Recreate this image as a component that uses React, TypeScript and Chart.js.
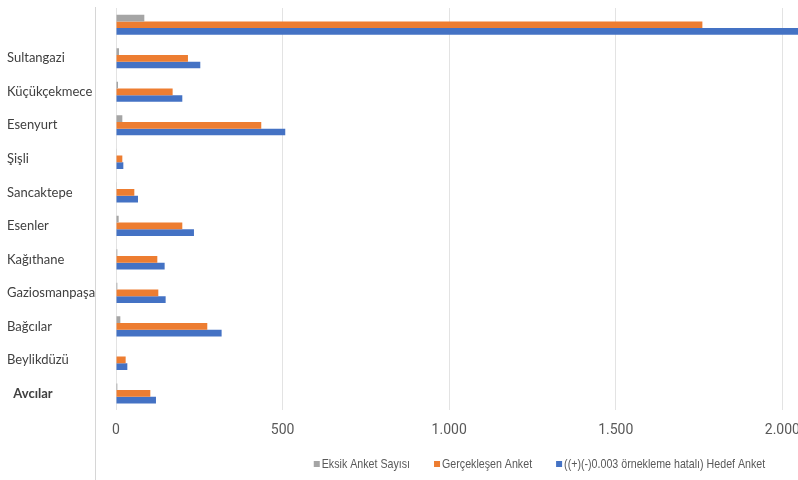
import React, { useEffect, useRef } from "react";
import { Chart, registerables } from "chart.js";

Chart.register(...registerables);

const categories = [
  "",
  "Sultangazi",
  "Küçükçekmece",
  "Esenyurt",
  "Şişli",
  "Sancaktepe",
  "Esenler",
  "Kağıthane",
  "Gaziosmanpaşa",
  "Bağcılar",
  "Beylikdüzü",
  "Avcılar",
];
const eksikAnket = [85, 9, 6, 19, 1, 1, 8, 4, 4, 13, 2, 4];
const gerceklesenAnket = [1760, 216, 170, 436, 19, 55, 199, 124, 127, 274, 29, 103];
const hedefAnket = [2070, 253, 199, 508, 22, 66, 234, 146, 149, 317, 34, 120];
const seriesLabels = [
  "Eksik Anket Sayısı",
  "Gerçekleşen Anket",
  "((+)(-)0.003 örnekleme hatalı) Hedef Anket",
];
const seriesColors = ["#A5A5A5", "#ED7D31", "#4472C4"];
const xTickValues = [0, 500, 1000, 1500, 2000];
const xMax = 2047;

const labelFamily = "Lato, 'Open Sans', sans-serif";
const tickFamily = "Roboto, 'Liberation Sans', sans-serif";
const legendFamily = "'Liberation Sans', Arial, sans-serif";

const fmt = (v: number) => String(v).replace(/\B(?=(\d{3})+(?!\d))/g, ".");

const frameLine = {
  id: "frameLine",
  beforeDraw(chart: any) {
    const ctx = chart.ctx;
    ctx.save();
    ctx.strokeStyle = "#d6d6d6";
    ctx.lineWidth = 1;
    ctx.beginPath();
    ctx.moveTo(95.5, 7);
    ctx.lineTo(95.5, chart.height);
    ctx.stroke();
    ctx.restore();
  },
};

const customLegend = {
  id: "customLegend",
  afterDraw(chart: any) {
    const ctx = chart.ctx;
    const squeeze = 0.82;
    ctx.save();
    ctx.font = `13px ${legendFamily}`;
    ctx.textBaseline = "middle";
    const box = 6;
    const gapText = 2;
    const gapItem = 24;
    const items = chart.data.datasets.map((ds: any) => ({
      label: ds.label,
      color: ds.backgroundColor,
      w: ctx.measureText(ds.label).width * squeeze,
    }));
    const total =
      items.reduce((s: number, it: any) => s + box + gapText + it.w, 0) +
      gapItem * (items.length - 1);
    let x = 539.5 - total / 2;
    const y = 464;
    items.forEach((it: any) => {
      ctx.fillStyle = it.color;
      ctx.fillRect(x, y - box / 2, box, box);
      x += box + gapText;
      ctx.save();
      ctx.translate(x, y);
      ctx.scale(squeeze, 1);
      ctx.fillStyle = "#595959";
      ctx.fillText(it.label, 0, 0);
      ctx.restore();
      x += it.w + gapItem;
    });
    ctx.restore();
  },
};

export default function App() {
  const canvasRef = useRef<HTMLCanvasElement | null>(null);

  useEffect(() => {
    if (!canvasRef.current) return;
    const chart = new Chart(canvasRef.current, {
      type: "bar",
      data: {
        labels: categories,
        datasets: [eksikAnket, gerceklesenAnket, hedefAnket].map((d, i) => ({
          label: seriesLabels[i],
          data: d,
          backgroundColor: seriesColors[i],
          borderWidth: 0,
          categoryPercentage: 0.6,
          barPercentage: 1.0,
        })),
      },
      options: {
        indexAxis: "y",
        animation: false,
        responsive: false,
        maintainAspectRatio: false,
        layout: { padding: { left: 7, top: 8, right: 0, bottom: 29 } },
        plugins: {
          legend: { display: false },
          tooltip: { enabled: false },
        },
        scales: {
          x: {
            type: "linear",
            min: 0,
            max: xMax,
            afterBuildTicks: (s: any) => {
              s.ticks = xTickValues.map((v) => ({ value: v }));
            },
            afterFit: (s: any) => {
              s.paddingRight = 0;
              s.paddingLeft = 0;
            },
            grid: { color: "#e3e3e3", drawTicks: false, lineWidth: 1 },
            border: { display: false },
            ticks: {
              padding: 12,
              color: "#595959",
              font: { family: tickFamily, size: 14 },
              callback: (v: any) => fmt(Number(v)),
              maxRotation: 0,
            },
          },
          y: {
            grid: { display: false },
            border: { display: false },
            afterFit: (s: any) => {
              s.width = 109;
            },
            ticks: {
              crossAlign: "far",
              padding: 0,
              color: "#404040",
              font: (c: any) =>
                c.index === categories.length - 1
                  ? { family: labelFamily, size: 13, weight: "bold" }
                  : { family: labelFamily, size: 13 },
              callback: (_v: any, i: number) =>
                i === categories.length - 1 ? "  " + categories[i] : categories[i],
            },
          },
        },
      },
      plugins: [frameLine, customLegend],
    });
    return () => chart.destroy();
  }, []);

  return (
    <div style={{ position: "fixed", left: 0, top: 0, width: 798, height: 480, background: "#fff" }}>
      <canvas ref={canvasRef} width={798} height={480} />
    </div>
  );
}
